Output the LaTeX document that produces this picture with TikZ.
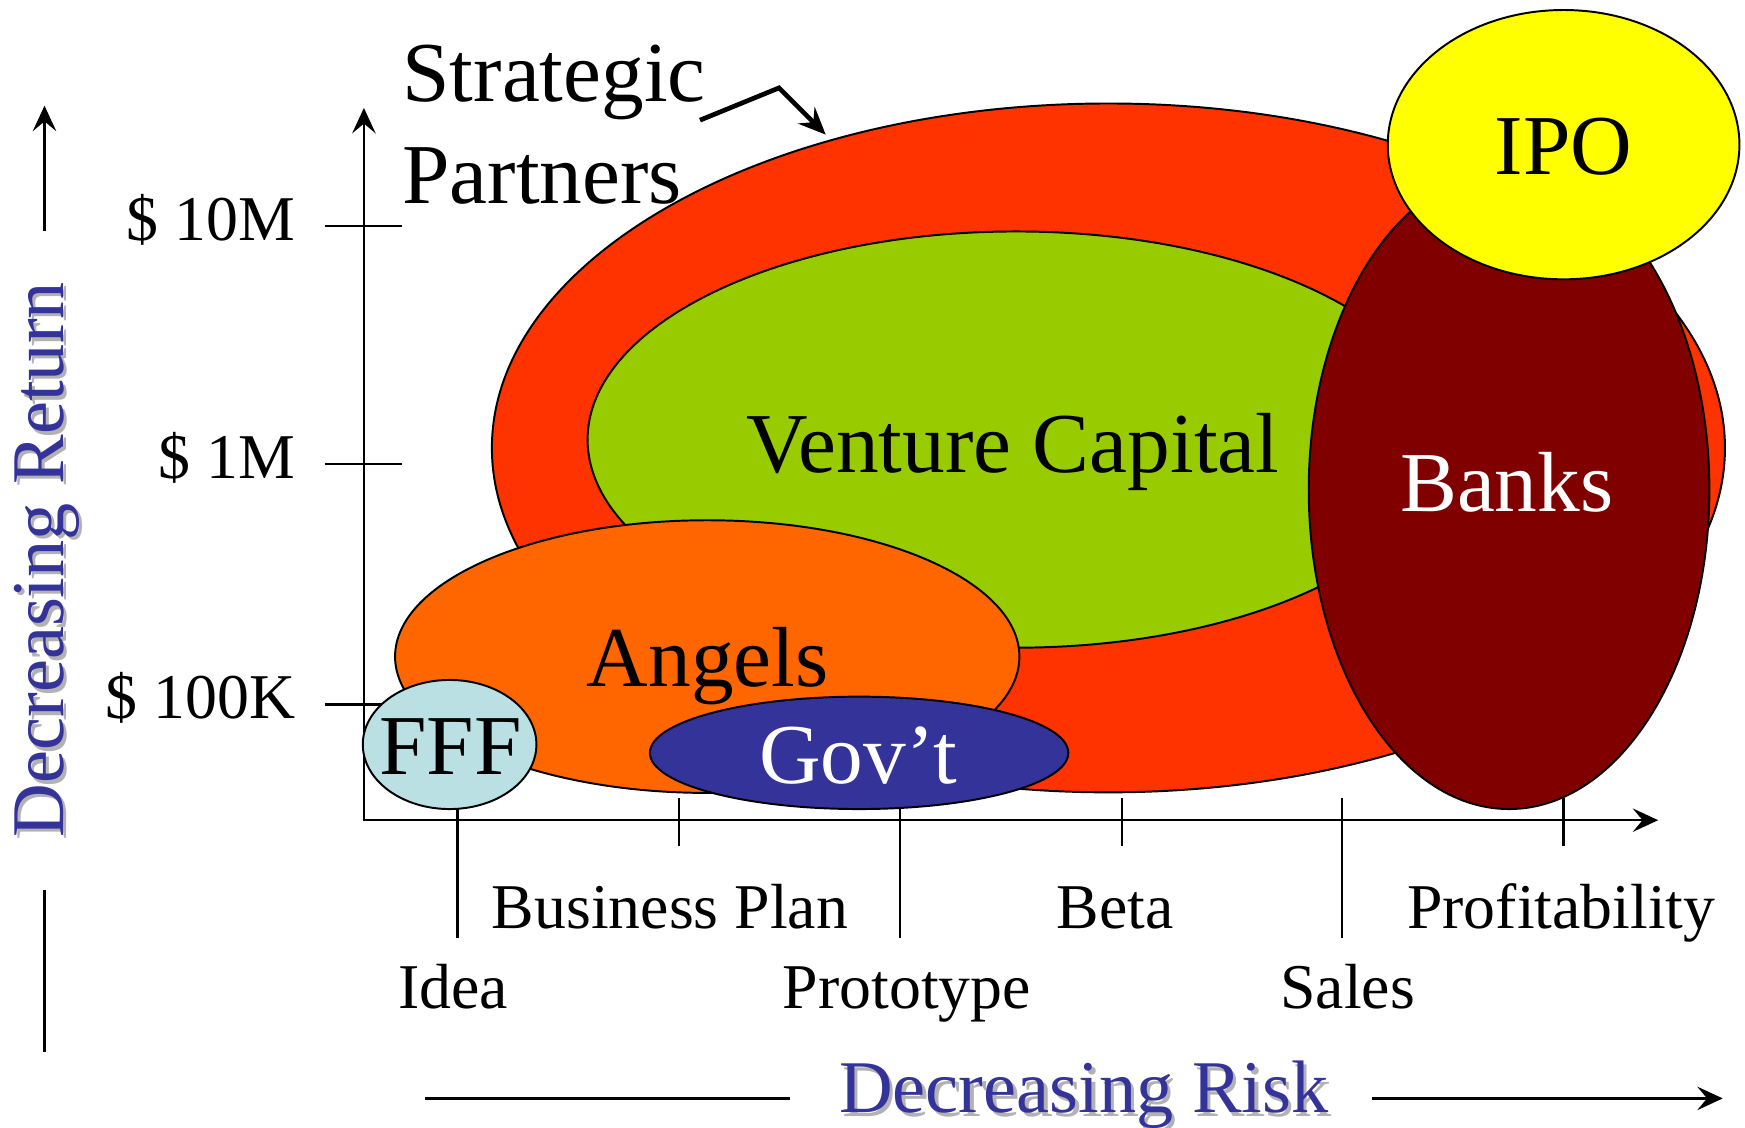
\documentclass[tikz,border=0pt]{standalone}
\usepackage{fontspec}
\setmainfont{Liberation Serif}
\usetikzlibrary{arrows.meta}
\definecolor{partnerred}{HTML}{FF3300}
\definecolor{vcgreen}{HTML}{99CC00}
\definecolor{angelorange}{HTML}{FF6600}
\definecolor{ffflight}{HTML}{BBE0E3}
\definecolor{govblue}{HTML}{333399}
\definecolor{bankred}{HTML}{800000}
\definecolor{ipoyellow}{HTML}{FFFF00}
\definecolor{shadowgray}{HTML}{B2B2B2}
\begin{document}
\begin{tikzpicture}[x=0.01cm,y=-0.01cm,
    every node/.style={inner sep=0pt},
    big/.style={font=\fontsize{21.8}{26}\selectfont},
    small/.style={font=\fontsize{16.3}{19}\selectfont},
    axislabel/.style={font=\fontsize{19}{23}\selectfont,text=govblue},
    region/.style={draw=black,line width=0.5pt},
    axisline/.style={line width=0.6pt},
    tip/.style={-{Stealth[length=6.5pt,width=6pt,inset=2.5pt]}}]
        \useasboundingbox (0,0) rectangle (1568,1013);
        % Axes
        \coordinate (ytop) at (327,97);
        \coordinate (origin) at (327,737);
        \coordinate (xend) at (1490,737);
        \draw [axisline,{Stealth[length=6.5pt,width=6pt,inset=2.5pt]}-{Stealth[length=6.5pt,width=6pt,inset=2.5pt]}]
            (ytop) -- (origin) -- (xend);
        \foreach \y/\amount in {203/{\$ 10M},417/{\$ 1M},633/{\$ 100K}} {
            \draw [axisline] (292,\y) -- (361,\y);
            \node [small,anchor=base east] at (266,\y+13) {\amount};
        }
        \foreach \x/\len in {411/843,610/760,809/843,1008/760,1206/843,1405/760}
            \draw [axisline] (\x,717) -- (\x,\len);
        \foreach \x/\y/\stage in {602/834/Business Plan,1002/834/Beta,1403/834/Profitability,
            407/906/Idea,815/906/Prototype,1211/906/Sales}
            \node [small,anchor=base] at (\x,\y) {\stage};
        % Regions
        \filldraw [region,fill=partnerred] (996,402.5) ellipse [x radius=554,y radius=309.5];
        \filldraw [region,fill=vcgreen] (913,395) ellipse [x radius=385,y radius=187];
        \filldraw [region,fill=angelorange] (635.5,590) ellipse [x radius=280.5,y radius=122.5];
        \filldraw [region,fill=ffflight] (404,669) ellipse [x radius=78,y radius=58];
        \filldraw [region,fill=govblue] (772,676.5) ellipse [x radius=188,y radius=50.5];
        \filldraw [region,fill=bankred] (1356,440) ellipse [x radius=180,y radius=287];
        \filldraw [region,fill=ipoyellow] (1405,130) ellipse [x radius=158,y radius=121];
        \node (vc) [big,anchor=base] at (910,425) {Venture Capital};
        \node (angels) [big,anchor=base] at (636,617) {Angels};
        \node (fff) [big,anchor=base] at (405,696) {FFF};
        \node (govt) [big,anchor=base,text=white] at (771,704) {Gov’t};
        \node (banks) [big,anchor=base,text=white] at (1354,460) {Banks};
        \node (ipo) [big,anchor=base] at (1405,157) {IPO};
        % Strategic partners label
        \node (partners) [big,anchor=base west,align=left] at (361,183) {Strategic\\Partners};
        \coordinate (bend) at (700,79);
        \coordinate (redtop) at (742,121);
        \draw [line width=1.2pt,-{Stealth[length=7pt,width=6pt,inset=2.5pt]}]
            (629,108) -- (bend) -- (redtop);
        % Direction labels
        \node [axislabel,text=shadowgray,anchor=base] at (977,1003) {Decreasing Risk};
        \node (risk) [axislabel,anchor=base] at (974,1000) {Decreasing Risk};
        \coordinate (riskA) at (382,987);
        \coordinate (riskB) at (710,987);
        \coordinate (riskC) at (1233,987);
        \coordinate (riskD) at (1548,987);
        \draw [axisline] (riskA) -- (riskB);
        \draw [axisline,tip] (riskC) -- (riskD);
        \node [axislabel,text=shadowgray,anchor=base,rotate=90] at (60,506) {Decreasing Return};
        \node (return) [axislabel,anchor=base,rotate=90] at (57,503) {Decreasing Return};
        \coordinate (retA) at (40,208);
        \coordinate (retB) at (40,95);
        \coordinate (retC) at (40,800);
        \coordinate (retD) at (40,945);
        \draw [axisline,tip] (retA) -- (retB);
        \draw [axisline] (retC) -- (retD);
    \end{tikzpicture}
\end{document}
